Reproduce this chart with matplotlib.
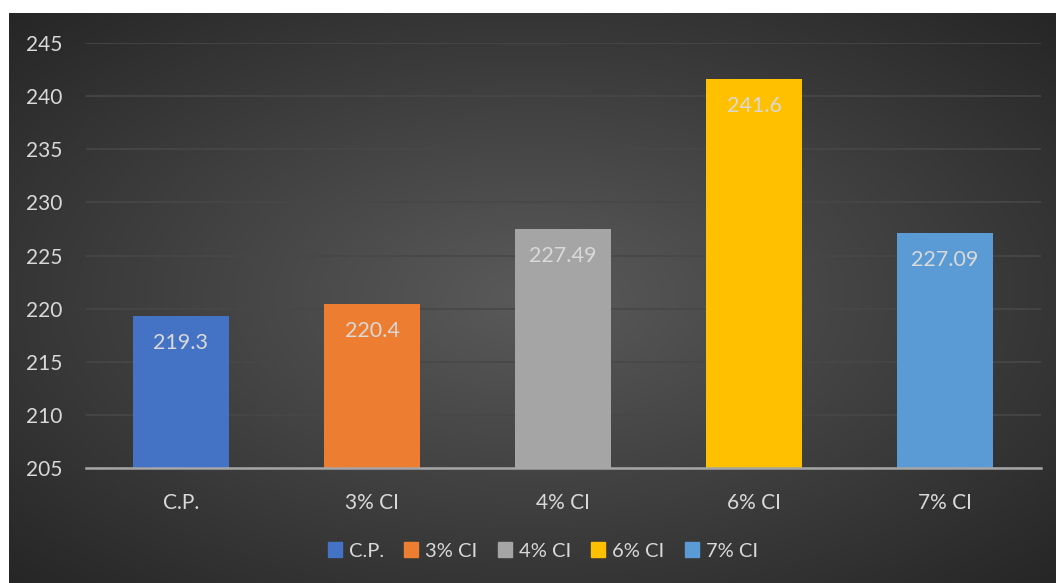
import numpy as np
import matplotlib.pyplot as plt
from matplotlib.colors import LinearSegmentedColormap
from matplotlib.patches import Patch

categories = ['C.P.', '3% CI', '4% CI', '6% CI', '7% CI']
values = [219.3, 220.4, 227.49, 241.6, 227.09]
labels = ['219.3', '220.4', '227.49', '241.6', '227.09']
colors = ['#4472C4', '#ED7D31', '#A5A5A5', '#FFC000', '#5B9BD5']

plt.rcParams['font.family'] = ['Lato', 'DejaVu Sans']
txt = '#D9D9D9'

fig = plt.figure(figsize=(10.56, 5.83), dpi=100, facecolor='white')

# dark radial background
bg = fig.add_axes([9 / 1056, 0, 1 - 9 / 1056, 1 - 13 / 583])
bg.set_axis_off()
yy, xx = np.mgrid[-1:1:300j, -1:1:600j]
r = np.sqrt(xx ** 2 + yy ** 2) / np.sqrt(2)
cmap = LinearSegmentedColormap.from_list('bg', ['#5a5a5a', '#262626'])
bg.imshow(r, cmap=cmap, aspect='auto', extent=[0, 1, 0, 1], vmin=0, vmax=1)

ax = fig.add_axes([85.5 / 1056, (583 - 468) / 583, 955 / 1056, 425 / 583])
ax.patch.set_alpha(0)
x = np.arange(len(categories))
bars = ax.bar(x, values, width=0.5, color=colors, zorder=3)
ax.set_ylim(205, 245)
ax.set_xlim(-0.5, len(categories) - 0.5)
ax.set_yticks(range(205, 246, 5))
ax.set_xticks(x, categories)
ax.grid(axis='y', color='#474747', linewidth=1.2, zorder=0)
for s in ['top', 'right', 'left']:
    ax.spines[s].set_visible(False)
ax.spines['bottom'].set_color('#A6A6A6')
ax.spines['bottom'].set_linewidth(1.8)
ax.spines['bottom'].set_zorder(4)
ax.tick_params(axis='both', length=0, colors=txt, labelsize=15)
ax.tick_params(axis='y', pad=17)
ax.tick_params(axis='x', pad=18)

for b, lab in zip(bars, labels):
    ax.annotate(lab, (b.get_x() + b.get_width() / 2, b.get_height()),
                xytext=(0, -19.5), textcoords='offset points', ha='center', va='center',
                color=txt, fontsize=15.5, zorder=5)

handles = [Patch(color=c, label=l) for c, l in zip(colors, categories)]
fig.legend(handles=handles, loc='center', bbox_to_anchor=(543 / 1056, 1 - 551 / 583),
           ncol=5, frameon=False, fontsize=14.5, labelcolor=txt,
           handlelength=0.7, handleheight=0.7, handletextpad=0.35, columnspacing=1.0)

fig.savefig('out.png', dpi=100, facecolor='white')
